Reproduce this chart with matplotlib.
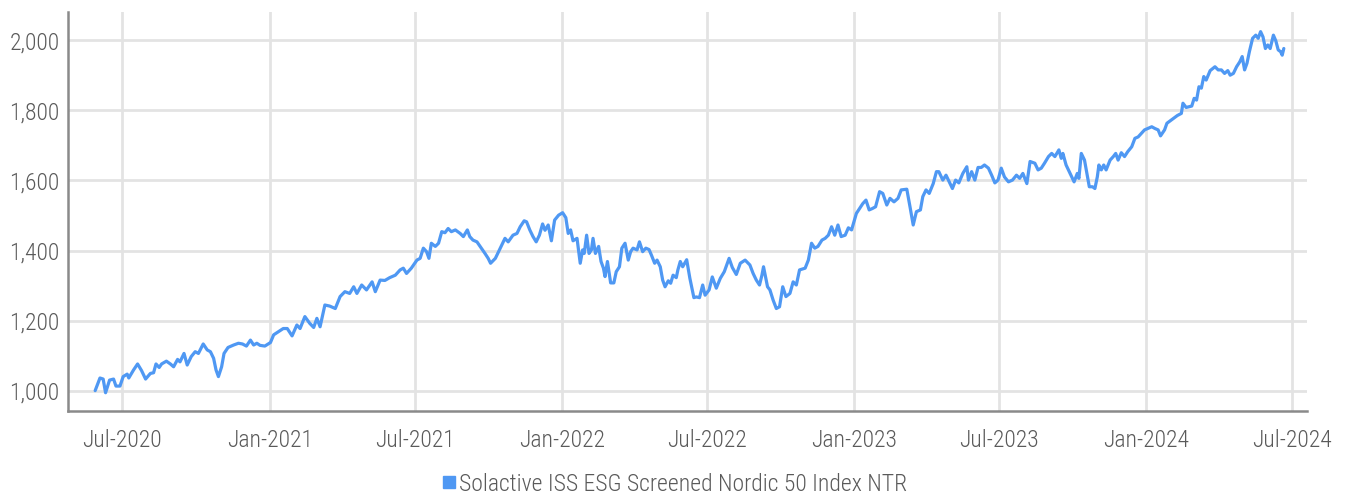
import pandas as pd
import matplotlib.pyplot as plt
import matplotlib.dates as mdates
from matplotlib.lines import Line2D
from matplotlib.ticker import FuncFormatter

# index level, sampled every few days from the first fixing date
start_date = "2020-05-28"
day_offset = [
    0, 6, 10, 13, 18, 23, 26, 31, 35, 40, 42, 48, 53, 58, 63, 69, 73, 76, 80, 83,
    89, 94, 98, 103, 106, 111, 115, 120, 125, 129, 135, 140, 144, 148, 151, 154, 158, 161, 166, 173,
    179, 184, 189, 194, 198, 202, 206, 212, 219, 223, 229, 235, 240, 246, 252, 256, 262, 268, 273, 277,
    281, 287, 293, 300, 306, 312, 318, 323, 327, 333, 339, 346, 350, 356, 362, 368, 375, 381, 385, 389,
    395, 402, 406, 410, 414, 417, 420, 425, 429, 433, 437, 441, 445, 450, 456, 460, 465, 468, 472, 477,
    481, 487, 491, 494, 500, 504, 508, 512, 516, 522, 527, 531, 536, 539, 543, 547, 551, 555, 559, 562,
    566, 570, 574, 579, 584, 588, 591, 594, 597, 602, 606, 609, 611, 614, 617, 620, 622, 625, 629, 632,
    635, 637, 640, 644, 648, 651, 655, 658, 662, 666, 669, 672, 677, 680, 684, 688, 692, 695, 699, 702,
    706, 709, 712, 716, 719, 722, 726, 728, 731, 734, 739, 743, 748, 751, 755, 759, 762, 767, 771, 776,
    781, 786, 792, 796, 801, 806, 812, 818, 822, 826, 830, 833, 835, 840, 843, 847, 851, 855, 859, 863,
    868, 872, 876, 880, 887, 891, 895, 899, 903, 908, 912, 916, 920, 924, 928, 932, 937, 941, 945, 951,
    955, 959, 963, 967, 971, 975, 980, 984, 989, 993, 998, 1003, 1007, 1014, 1018, 1022, 1026, 1031, 1034, 1038,
    1042, 1047, 1051, 1054, 1059, 1063, 1067, 1071, 1075, 1079, 1084, 1089, 1091, 1095, 1099, 1103, 1107, 1111, 1116, 1120,
    1124, 1128, 1132, 1136, 1141, 1146, 1151, 1155, 1159, 1164, 1168, 1174, 1178, 1182, 1186, 1191, 1195, 1199, 1204, 1207,
    1209, 1213, 1218, 1223, 1227, 1229, 1232, 1236, 1239, 1242, 1246, 1249, 1252, 1254, 1257, 1260, 1263, 1268, 1272, 1275,
    1278, 1282, 1286, 1290, 1295, 1299, 1303, 1307, 1311, 1315, 1320, 1324, 1328, 1331, 1336, 1339, 1346, 1352, 1357, 1359,
    1363, 1370, 1373, 1376, 1379, 1382, 1385, 1388, 1393, 1399, 1403, 1407, 1411, 1415, 1418, 1422, 1426, 1430, 1433, 1436,
    1439, 1442, 1446, 1450, 1453, 1456, 1459, 1462, 1465, 1468, 1472, 1475, 1478, 1481, 1483, 1485,
]
index_level = [
    1001, 1037, 1034, 995, 1031, 1034, 1014, 1014, 1041, 1048, 1037, 1060, 1077, 1058, 1034, 1050, 1052, 1077, 1067, 1077,
    1085, 1077, 1069, 1090, 1083, 1107, 1074, 1098, 1112, 1107, 1134, 1117, 1112, 1093, 1060, 1041, 1069, 1107, 1124, 1131,
    1136, 1134, 1128, 1145, 1131, 1136, 1130, 1128, 1138, 1160, 1169, 1178, 1178, 1157, 1188, 1178, 1212, 1193, 1181, 1207,
    1183, 1245, 1242, 1235, 1269, 1283, 1278, 1297, 1278, 1302, 1288, 1311, 1283, 1316, 1315, 1323, 1330, 1345, 1350, 1335,
    1350, 1373, 1378, 1407, 1397, 1378, 1421, 1412, 1421, 1454, 1451, 1463, 1454, 1459, 1449, 1440, 1459, 1440, 1430, 1425,
    1412, 1392, 1378, 1364, 1378, 1397, 1416, 1435, 1425, 1444, 1449, 1468, 1485, 1482, 1459, 1440, 1425, 1444, 1476, 1458,
    1473, 1428, 1487, 1501, 1508, 1494, 1449, 1459, 1428, 1435, 1364, 1402, 1392, 1444, 1392, 1402, 1435, 1392, 1412, 1369,
    1350, 1326, 1369, 1308, 1308, 1340, 1354, 1407, 1421, 1373, 1397, 1407, 1402, 1425, 1397, 1407, 1403, 1387, 1364, 1373,
    1354, 1316, 1297, 1314, 1307, 1330, 1323, 1345, 1369, 1354, 1374, 1321, 1266, 1268, 1266, 1302, 1273, 1288, 1325, 1293,
    1321, 1340, 1378, 1352, 1332, 1364, 1373, 1359, 1335, 1316, 1302, 1330, 1354, 1297, 1288, 1259, 1235, 1240, 1297, 1269,
    1278, 1311, 1302, 1345, 1350, 1373, 1421, 1407, 1412, 1430, 1435, 1444, 1468, 1444, 1473, 1440, 1444, 1465, 1459, 1506,
    1520, 1534, 1544, 1516, 1520, 1525, 1568, 1563, 1530, 1549, 1539, 1549, 1573, 1575, 1525, 1473, 1511, 1516, 1554, 1573,
    1563, 1591, 1625, 1625, 1601, 1615, 1596, 1577, 1601, 1593, 1620, 1639, 1601, 1625, 1601, 1637, 1637, 1644, 1635, 1615,
    1593, 1601, 1635, 1610, 1596, 1601, 1615, 1606, 1620, 1591, 1654, 1649, 1630, 1635, 1649, 1668, 1677, 1668, 1687, 1663,
    1677, 1644, 1620, 1596, 1620, 1606, 1677, 1658, 1620, 1582, 1582, 1577, 1610, 1644, 1630, 1644, 1630, 1658, 1668, 1677,
    1658, 1679, 1668, 1682, 1696, 1720, 1724, 1734, 1744, 1748, 1753, 1748, 1744, 1727, 1744, 1763, 1775, 1785, 1791, 1820,
    1808, 1812, 1834, 1829, 1867, 1863, 1896, 1886, 1913, 1924, 1915, 1915, 1905, 1913, 1900, 1905, 1924, 1938, 1953, 1915,
    1934, 1967, 2005, 2014, 2005, 2024, 2009, 1976, 1986, 1976, 2014, 1998, 1972, 1967, 1957, 1976,
]
series_name = "Solactive ISS ESG Screened Nordic 50 Index NTR"
y_ticks = [1000, 1200, 1400, 1600, 1800, 2000]

dates = pd.Timestamp(start_date) + pd.to_timedelta(day_offset, unit="D")

plt.rcParams["font.family"] = ["Roboto Condensed", "Roboto", "DejaVu Sans"]
plt.rcParams["font.weight"] = "light"
line_color = "#4f98f3"
text_color = "#5a5a5a"

fig = plt.figure(figsize=(13.48, 4.96), dpi=100)
ax = fig.add_axes([0.0504, 0.1714, 0.9192, 0.8044])

ax.plot(dates, index_level, color=line_color, linewidth=2.3,
        solid_joinstyle="round", solid_capstyle="round")

ax.set_xlim(pd.Timestamp(start_date) - pd.Timedelta(days=34),
            pd.Timestamp(start_date) + pd.Timedelta(days=1514))
ax.set_ylim(943, 2080)

ax.xaxis.set_major_locator(mdates.MonthLocator(bymonth=[1, 7]))
ax.xaxis.set_major_formatter(mdates.DateFormatter("%b-%Y"))
ax.set_yticks(y_ticks)
ax.yaxis.set_major_formatter(FuncFormatter(lambda v, p: f"{v:,.0f}"))

ax.grid(True, color="#e3e3e3", linewidth=2.0)
ax.set_axisbelow(True)
ax.tick_params(length=0, labelsize=17, labelcolor=text_color, pad=6)
ax.tick_params(axis="x", pad=13)

for side in ["top", "right"]:
    ax.spines[side].set_visible(False)
for side in ["left", "bottom"]:
    ax.spines[side].set_color("#8a8a8a")
    ax.spines[side].set_linewidth(1.8)

handle = Line2D([], [], marker="s", linestyle="none", markersize=8,
                markerfacecolor=line_color, markeredgecolor=line_color)
fig.legend([handle], [series_name], loc="center", bbox_to_anchor=(0.5, 0.024),
           frameon=False, fontsize=17, labelcolor=text_color,
           handletextpad=0.1, handlelength=0.7)

fig.savefig("out.png", dpi=100)
